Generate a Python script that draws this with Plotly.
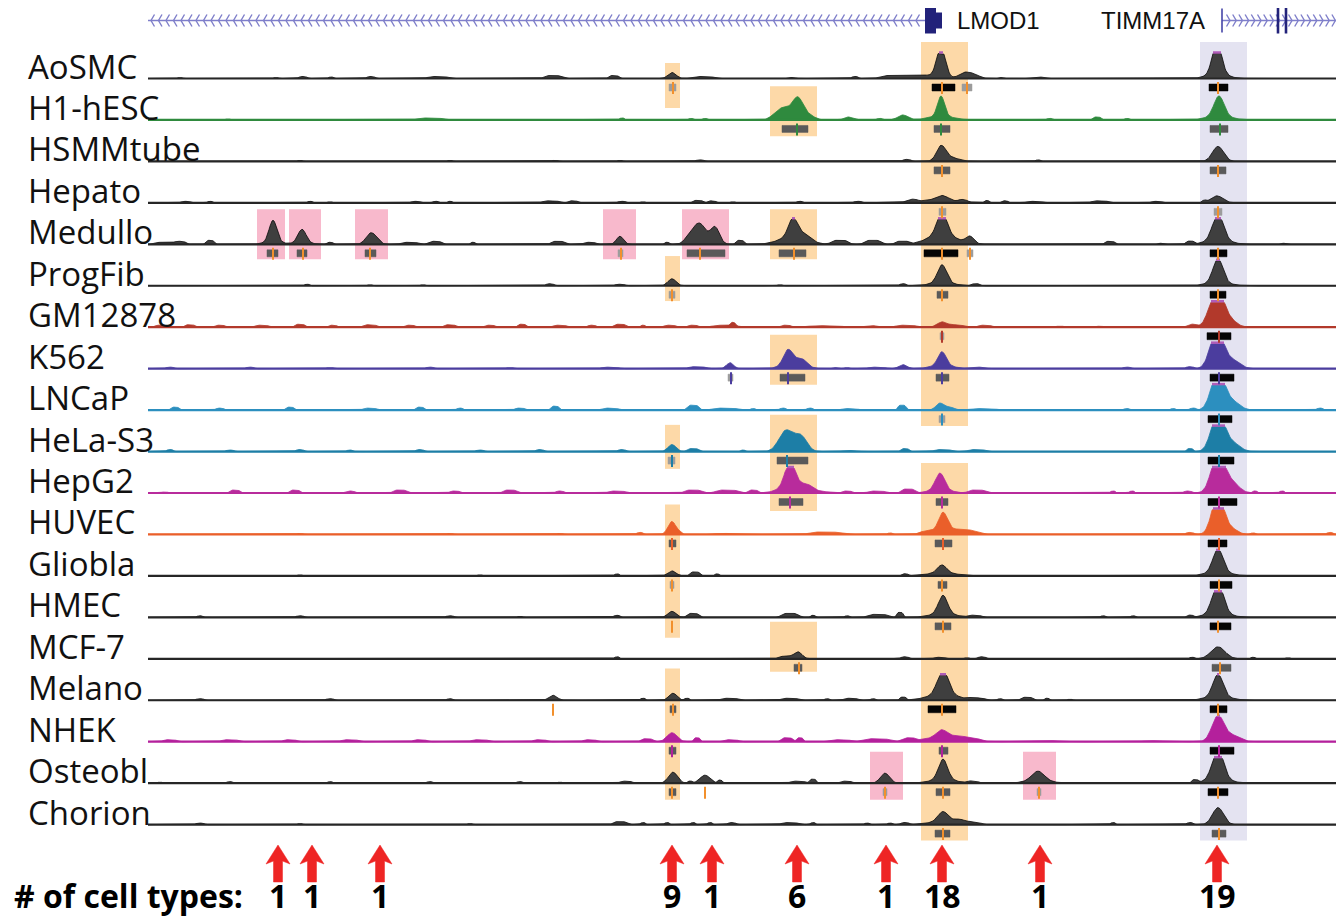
import numpy as np
import plotly.graph_objects as go

# ---------------- data ----------------
TRACKS = ["AoSMC", "H1-hESC", "HSMMtube", "Hepato", "Medullo", "ProgFib", "GM12878",
          "K562", "LNCaP", "HeLa-S3", "HepG2", "HUVEC", "Gliobla", "HMEC", "MCF-7",
          "Melano", "NHEK", "Osteobl", "Chorion"]

TRACK_COLORS = {"H1-hESC": "#2f8a3e", "GM12878": "#b2392b", "K562": "#4b3d9e",
                "LNCaP": "#2c8fbf", "HeLa-S3": "#1d7ea6", "HepG2": "#b82b9c",
                "HUVEC": "#ea5f2a", "NHEK": "#b4209c"}

# peaks: (position kb, height, sigma kb)
PEAKS = {
    "AoSMC": [(52.4, 6, 0.4), (79.3, 30, 0.45), (77.2, 4, 1.0), (81.7, 6, 0.6), (82.7, 3, 0.5),
              (106.9, 32, 0.45), (106.9, 5, 1.0)],
    "H1-hESC": [(65.0, 18, 0.5), (63.9, 10, 0.8), (63.0, 5, 0.6), (66.0, 5, 0.6), (79.3, 20, 0.35),
                (79.3, 4, 1.2), (75.5, 5, 0.5), (70.0, 3, 0.4), (107.1, 20, 0.5), (107.1, 4, 1.2)],
    "HSMMtube": [(79.3, 14, 0.45), (80.2, 4, 0.8), (107.0, 15, 0.55)],
    "Hepato": [(79.4, 5, 0.6), (78.7, 2.5, 2.5), (106.9, 7, 0.6)],
    "Medullo": [(12.5, 21, 0.38), (12.5, 3, 0.8), (15.4, 13, 0.4), (15.4, 2, 0.8), (22.2, 10, 0.45),
                (22.8, 4, 0.4), (47.2, 8, 0.35), (55.2, 20, 0.6), (56.7, 17, 0.45), (54.2, 8, 0.5),
                (64.5, 18, 0.45), (64.5, 8, 1.3), (65.7, 5, 0.6), (79.4, 22, 0.5), (79.4, 10, 1.4),
                (82.2, 7, 0.4), (107.0, 26, 0.55), (107.0, 4, 1.2)],
    "ProgFib": [(52.4, 7, 0.4), (79.4, 18, 0.45), (79.4, 3, 1.2), (107.0, 24, 0.5), (107.0, 3, 1.2)],
    "GM12878": [(79.4, 3, 0.4), (106.9, 40, 0.7), (108.4, 5, 0.6), (104.4, 3, 0.4)],
    "K562": [(58.2, 6, 0.35), (64.0, 14, 0.45), (64.5, 6, 1.0), (65.4, 6, 0.5), (79.4, 13, 0.4),
             (79.4, 4, 1.0), (75.5, 4, 0.4), (106.9, 40, 0.65), (108.5, 8, 0.7)],
    "LNCaP": [(79.2, 7, 0.4), (80.2, 3, 0.4), (107.0, 40, 0.65), (108.5, 8, 0.7)],
    "HeLa-S3": [(52.4, 7, 0.4), (63.8, 21, 0.7), (65.3, 15, 0.6), (107.0, 40, 0.65), (108.5, 8, 0.7)],
    "HepG2": [(64.2, 24, 0.5), (64.5, 8, 1.2), (66.0, 5, 0.6), (79.2, 16, 0.45), (79.2, 4, 1.0),
              (107.0, 40, 0.65), (108.4, 10, 0.7)],
    "HUVEC": [(52.4, 13, 0.4), (79.5, 18, 0.45), (79.5, 4, 1.2), (81.4, 4, 0.8), (107.0, 40, 0.6),
              (108.4, 5, 0.6)],
    "Gliobla": [(52.4, 5, 0.4), (79.4, 8, 0.45), (79.4, 3, 1.5), (107.0, 23, 0.5), (107.0, 4, 1.2)],
    "HMEC": [(52.4, 6, 0.4), (79.5, 18, 0.45), (79.5, 4, 1.2), (107.0, 30, 0.55), (107.0, 4, 1.2)],
    "MCF-7": [(65.0, 7, 0.4), (107.0, 12, 0.7)],
    "Melano": [(40.5, 5, 0.4), (52.5, 7, 0.4), (79.5, 24, 0.55), (79.5, 6, 1.5), (107.0, 22, 0.5),
               (107.0, 4, 1.2)],
    "NHEK": [(52.4, 9, 0.5), (79.4, 8, 0.55), (79.4, 4, 2.0), (107.0, 26, 0.6), (108.5, 6, 0.7)],
    "Osteobl": [(52.5, 11, 0.45), (55.7, 8, 0.5), (73.7, 10, 0.45), (79.5, 20, 0.45), (79.5, 4, 1.2),
                (89.0, 9, 0.6), (89.0, 3, 1.2), (107.0, 30, 0.55), (107.0, 4, 1.2)],
    "Chorion": [(79.5, 10, 0.5), (79.5, 3, 1.4), (81.2, 4, 0.6), (107.0, 17, 0.55)],
}

# low background bumps: (position kb, height, half-width kb)
BUMPS = {
    "AoSMC": [(3.2, 1, 0.3), (12.8, 1, 0.3), (15.5, 2, 0.5), (18.3, 1.5, 0.3), (22.3, 2, 0.5),
              (29.0, 2, 1.2), (40.5, 3, 1.0), (46.6, 3, 0.6), (55.5, 2, 1.3), (64.4, 1, 0.5),
              (70.7, 2, 0.4), (74.5, 3, 1.5), (85.4, 1, 0.3), (88.9, 1.5, 0.8)],
    "H1-hESC": [(8.0, 1, 0.3), (28.2, 2, 1.5), (47.4, 2, 0.3), (54.3, 1.5, 0.3), (55.7, 1.5, 0.3),
                (73.2, 1.5, 0.4), (90.2, 1.5, 0.4), (94.9, 3, 0.5), (97.9, 1.5, 0.3)],
    "HSMMtube": [(15.2, 1, 0.3), (30.2, 1, 0.3), (40.7, 1, 0.4), (47.2, 1, 0.3), (55.2, 1.5, 0.5),
                 (75.9, 2, 0.5), (89.0, 1.5, 0.3)],
    "Hepato": [(3.8, 1.5, 0.6), (6.2, 1.5, 0.3), (16.2, 1.5, 0.3), (18.2, 1, 0.3), (26.8, 1.5, 0.6),
               (28.8, 1.5, 0.4), (30.2, 1.5, 0.3), (40.3, 2, 1.0), (42.5, 2, 0.6), (47.4, 1.5, 0.5),
               (49.5, 1, 0.3), (55.0, 2.5, 0.6), (56.4, 2, 0.5), (58.5, 1, 0.3), (65.2, 1.5, 0.4),
               (71.0, 1.5, 0.5), (76.4, 2, 0.6), (81.5, 2, 0.5), (83.9, 2, 0.3), (85.7, 2, 0.4),
               (88.7, 1.5, 1.0), (95.2, 2, 1.0), (100.9, 1.5, 0.7), (105.6, 2, 0.3)],
    "Medullo": [(1.5, 2, 1.0), (3.2, 3, 0.7), (6.2, 4, 0.5), (18.2, 2, 0.4), (26.2, 2, 1.0),
                (28.7, 3, 0.8), (32.5, 2, 0.3), (41.0, 3, 0.8), (44.2, 2, 0.7), (51.9, 2, 0.3),
                (59.2, 4, 0.5), (69.2, 4, 1.0), (72.5, 4, 1.0), (75.4, 3, 0.8), (96.2, 3, 0.6),
                (101.2, 1, 0.3), (104.2, 3, 0.5), (113.5, 1, 0.3)],
    "ProgFib": [(15.9, 1.5, 0.3), (22.2, 1, 0.3), (27.5, 1, 0.3), (40.2, 2, 0.5), (47.2, 1.5, 0.6),
                (63.2, 1, 0.3), (75.5, 2, 0.4), (82.8, 2, 0.5)],
    "GM12878": [(1.2, 2, 0.6), (4.2, 2.5, 0.6), (7.2, 2, 0.6), (11.4, 2, 0.8), (15.2, 3, 0.6),
                (18.5, 2, 0.5), (22.2, 2.5, 0.8), (26.2, 2, 0.6), (30.2, 2.5, 0.7), (34.2, 2, 0.6),
                (37.4, 3, 0.5), (41.2, 2, 0.8), (44.4, 2, 0.5), (47.2, 3, 0.7), (49.5, 2, 0.3),
                (52.2, 2, 0.7), (54.5, 2, 0.6), (57.7, 2, 1.5), (58.5, 3, 0.3), (63.8, 2, 0.6),
                (67.7, 1.5, 2.0), (72.2, 1.5, 1.0), (75.8, 2, 1.2), (80.2, 2.5, 1.6), (83.7, 2, 0.8),
                (91.2, 1, 0.5), (95.2, 1, 0.4)],
    "K562": [(2.2, 1.5, 0.5), (10.2, 1.5, 0.5), (18.2, 1, 0.5), (28.2, 1.5, 0.5), (36.2, 1, 0.5),
             (46.2, 1.5, 1.0), (54.9, 2, 1.0), (68.8, 1, 0.4), (69.9, 1, 0.3), (72.9, 1.5, 1.0),
             (82.9, 1.5, 1.0), (97.9, 1.5, 0.5), (104.2, 2, 0.5)],
    "LNCaP": [(2.7, 3, 0.5), (7.2, 2, 0.5), (14.2, 3, 0.5), (22.2, 2, 0.8), (27.2, 3, 0.5),
              (31.2, 2, 0.4), (37.2, 2, 0.6), (40.7, 4, 0.5), (46.2, 2, 1.0), (54.5, 5, 0.7),
              (57.7, 2, 1.5), (60.5, 1.5, 0.3), (63.5, 2, 0.4), (66.2, 2, 0.4), (70.2, 1.5, 1.0),
              (75.4, 5, 0.5), (83.5, 1.5, 1.6), (97.9, 1.5, 0.4), (102.5, 1.5, 0.3), (104.5, 2, 0.4),
              (117.2, 2, 0.4)],
    "HeLa-S3": [(2.2, 2, 0.4), (8.2, 1.5, 0.5), (15.2, 2, 0.5), (20.2, 1.5, 0.4), (27.2, 2, 0.5),
                (33.2, 1.5, 0.5), (39.2, 2, 0.5), (47.4, 2, 0.5), (54.5, 3, 0.7), (59.5, 1.5, 0.3),
                (70.2, 1, 1.0), (75.7, 3, 0.5), (79.5, 2, 1.0), (82.9, 2, 1.0), (104.2, 3, 0.4)],
    "HepG2": [(1.7, 1, 0.4), (8.7, 3, 0.6), (14.7, 3, 0.6), (20.2, 2, 0.6), (25.2, 3, 0.8),
              (30.7, 2, 0.6), (36.2, 3, 0.8), (41.2, 2, 0.5), (46.9, 2, 1.0), (54.5, 3, 1.0),
              (57.9, 3, 1.3), (60.5, 3, 0.6), (67.7, 1, 0.8), (69.9, 2, 0.6), (72.9, 2, 1.0),
              (76.0, 4, 0.8), (82.9, 3, 1.0), (96.5, 2, 0.3), (98.4, 2, 0.3), (104.0, 2, 0.5),
              (110.7, 2, 0.3), (113.4, 2, 0.3)],
    "HUVEC": [(15.2, 1, 0.4), (30.2, 1, 0.4), (41.2, 1, 0.4), (49.2, 2, 0.4), (53.2, 1.5, 0.3),
              (57.5, 1, 1.0), (67.7, 2.5, 1.8), (74.2, 1.5, 0.3), (77.7, 2, 0.8), (82.7, 2, 0.8),
              (104.2, 2, 0.5), (110.5, 1.5, 0.3), (118.2, 2, 0.4)],
    "Gliobla": [(15.2, 1, 0.3), (33.2, 1, 0.3), (46.9, 2, 0.3), (54.7, 4, 0.6), (56.9, 2, 0.3),
                (75.7, 2, 0.4)],
    "HMEC": [(5.2, 1.5, 0.4), (15.2, 1.5, 0.5), (30.2, 1.5, 0.5), (37.2, 1, 0.3), (46.9, 2, 0.4),
             (54.5, 4, 0.7), (64.2, 4, 1.0), (66.5, 2, 0.3), (69.9, 1.5, 0.3), (73.0, 3, 1.2),
             (75.2, 5, 0.4), (82.7, 2, 0.8), (95.5, 1.5, 0.3), (98.5, 1.5, 0.3), (104.2, 2, 0.4)],
    "MCF-7": [(46.9, 2, 0.3), (63.7, 2.5, 0.8), (75.7, 2, 0.5), (79.2, 1.5, 0.7), (81.9, 1, 0.3),
              (83.4, 2, 0.5), (104.4, 1.5, 0.3), (110.5, 1.5, 0.3), (114.0, 1, 0.3)],
    "Melano": [(5.2, 1.5, 0.5), (18.2, 1.5, 0.5), (30.2, 1.5, 0.4), (49.5, 2, 0.3), (53.9, 2, 0.3),
               (58.2, 2, 1.0), (64.2, 2, 1.0), (67.9, 1.5, 0.3), (70.3, 2, 0.8), (72.5, 1.5, 0.3),
               (75.5, 3, 0.4), (82.9, 2, 1.0), (85.2, 1.5, 0.3), (87.9, 3, 0.7), (89.9, 2, 0.3),
               (92.2, 1, 0.3)],
    "NHEK": [(2.2, 2, 0.8), (8.2, 2, 1.0), (14.2, 2, 0.8), (20.2, 2, 1.0), (27.2, 2, 0.8),
             (33.2, 2, 1.0), (39.2, 2, 0.8), (44.2, 2, 0.8), (49.9, 3, 0.7), (54.9, 4, 0.4),
             (58.3, 2, 0.9), (63.9, 4, 0.7), (65.2, 4, 0.4), (69.2, 2, 1.3), (72.8, 3, 1.6),
             (76.0, 3, 0.8), (81.8, 3, 1.6), (89.9, 1, 2.0), (100.2, 1, 1.0)],
    "Osteobl": [(1.2, 1, 0.3), (8.2, 1.5, 0.4), (18.2, 1.5, 0.3), (28.2, 1.5, 0.4), (37.2, 1.5, 0.4),
                (41.2, 1, 0.3), (47.8, 2, 0.7), (54.2, 2, 0.3), (57.2, 3, 0.3), (65.0, 2, 0.9),
                (66.5, 4, 0.4), (69.8, 2, 0.7), (82.5, 2, 0.7), (104.7, 3, 0.4)],
    "Chorion": [(5.2, 1.5, 0.5), (15.2, 1, 0.3), (32.2, 1, 0.3), (47.2, 3, 0.8), (49.5, 2, 0.3),
                (51.9, 2, 0.3), (54.5, 2, 0.3), (56.2, 2, 0.3), (58.4, 2, 0.5), (64.2, 2, 1.0),
                (66.5, 2, 0.3), (71.9, 1.5, 0.3), (74.2, 1.5, 0.3), (75.7, 2, 0.5), (82.7, 2, 0.8),
                (96.5, 2, 0.3), (104.2, 2, 0.4)],
}

# peak calls: (start kb, end kb, strength, summit kb); strength "tick" -> summit tick only
CALLS = {
    "AoSMC": [(52.1, 52.8, "weak", 52.5), (78.4, 80.7, "strong", 79.4), (81.4, 82.4, "weak", 81.9),
              (106.1, 108.0, "strong", 107.0)],
    "H1-hESC": [(63.4, 66.0, "mid", 64.9), (78.6, 80.2, "mid", 79.3), (106.2, 108.0, "mid", 107.2)],
    "HSMMtube": [(78.6, 80.2, "mid", 79.4), (106.2, 107.8, "mid", 107.0)],
    "Hepato": [(79.1, 79.8, "weak", 79.4), (106.6, 107.4, "weak", 107.0)],
    "Medullo": [(11.9, 13.0, "mid", 12.5), (14.9, 15.9, "mid", 15.5), (21.7, 22.8, "mid", 22.2),
                (47.0, 47.5, "weak", 47.3), (53.9, 57.7, "mid", 55.2), (63.1, 65.8, "mid", 64.6),
                (77.6, 81.0, "strong", 79.4), (81.9, 82.5, "weak", 82.2), (106.2, 107.9, "strong", 107.0)],
    "ProgFib": [(52.1, 52.7, "weak", 52.4), (78.9, 80.0, "mid", 79.4), (106.2, 107.8, "strong", 107.0)],
    "GM12878": [(79.2, 79.6, "weak", 79.4), (105.9, 108.3, "strong", 107.1)],
    "K562": [(58.0, 58.5, "weak", 58.3), (63.2, 65.7, "mid", 64.0), (78.8, 80.1, "mid", 79.4),
             (106.2, 108.6, "strong", 107.1)],
    "LNCaP": [(79.1, 79.7, "weak", 79.4), (106.0, 108.4, "strong", 107.1)],
    "HeLa-S3": [(52.0, 52.7, "weak", 52.4), (62.9, 66.0, "mid", 63.9), (106.0, 108.6, "strong", 107.1)],
    "HepG2": [(63.1, 65.5, "mid", 64.2), (78.8, 80.0, "mid", 79.4), (106.0, 108.9, "strong", 107.1)],
    "HUVEC": [(52.1, 52.8, "mid", 52.4), (78.7, 80.4, "mid", 79.5), (106.0, 107.9, "strong", 107.1)],
    "Gliobla": [(52.2, 52.6, "weak", 52.4), (79.0, 79.9, "mid", 79.4), (106.2, 108.4, "strong", 107.1)],
    "HMEC": [(52.4, 52.4, "tick", 52.4), (78.7, 80.3, "mid", 79.5), (106.2, 108.3, "strong", 107.0)],
    "MCF-7": [(64.6, 65.4, "mid", 65.1), (106.4, 108.3, "mid", 107.2)],
    "Melano": [(40.5, 40.5, "tick", 40.5), (52.2, 52.8, "mid", 52.5), (78.0, 80.8, "strong", 79.4),
               (106.2, 107.9, "strong", 107.0)],
    "NHEK": [(52.1, 52.8, "mid", 52.4), (79.1, 80.0, "mid", 79.4), (106.2, 108.6, "strong", 107.1)],
    "Osteobl": [(52.1, 52.8, "mid", 52.4), (55.7, 55.7, "tick", 55.7), (73.5, 73.9, "weak", 73.7),
                (78.8, 80.2, "mid", 79.5), (88.9, 89.3, "weak", 89.1), (106.0, 108.0, "strong", 107.0)],
    "Chorion": [(78.7, 80.2, "mid", 79.5), (106.4, 107.8, "mid", 107.1)],
}

# highlighted regions: (start kb, end kb, first track, last track, pad above px, pad below px, kind)
HIGHLIGHTS = [
    (51.7, 53.2, "AoSMC", "AoSMC", 15.5, 29.5, "shared"),
    (51.7, 53.2, "ProgFib", "ProgFib", 29.7, 15.3, "shared"),
    (51.7, 53.2, "HeLa-S3", "HeLa-S3", 26.7, 17.3, "shared"),
    (51.7, 53.2, "HUVEC", "HMEC", 30.0, 20.3, "shared"),
    (51.7, 53.2, "Melano", "Osteobl", 31.7, 16.7, "shared"),
    (62.2, 66.9, "H1-hESC", "H1-hESC", 33.7, 16.3, "shared"),
    (62.2, 66.9, "Medullo", "Medullo", 35.0, 15.0, "shared"),
    (62.2, 66.9, "K562", "K562", 34.0, 16.0, "shared"),
    (62.2, 66.9, "HeLa-S3", "HepG2", 36.7, 18.0, "shared"),
    (62.2, 66.9, "MCF-7", "MCF-7", 37.0, 13.0, "shared"),
    (77.3, 82.0, "AoSMC", "LNCaP", 36.5, 16.0, "shared"),
    (77.3, 82.0, "HepG2", "Chorion", 30.0, 16.0, "shared"),
    (10.9, 13.7, "Medullo", "Medullo", 35.0, 15.0, "unique"),
    (14.1, 17.3, "Medullo", "Medullo", 35.0, 15.0, "unique"),
    (20.7, 24.0, "Medullo", "Medullo", 35.0, 15.0, "unique"),
    (45.5, 48.8, "Medullo", "Medullo", 35.0, 15.0, "unique"),
    (53.4, 58.1, "Medullo", "Medullo", 35.0, 15.0, "unique"),
    (72.2, 75.5, "Osteobl", "Osteobl", 31.3, 16.7, "unique"),
    (87.5, 90.8, "Osteobl", "Osteobl", 31.3, 16.7, "unique"),
    (105.2, 109.9, "AoSMC", "Chorion", 36.5, 16.0, "all"),
]

# gene models (kb)
LMOD1 = {"intron": (0.0, 77.7), "exon_thick": (77.7, 78.8), "exon_thin": (78.8, 79.4), "label": 80.7}
TIMM17A = {"tss": 107.4, "intron": (107.4, 119.6), "exons": [113.0, 113.8], "label": 105.9}

# number of cell types sharing each site
SITE_POS = [13.0, 16.4, 23.2, 52.4, 56.4, 64.9, 73.8, 79.4, 89.2, 106.9]
SITE_COUNTS = [1, 1, 1, 9, 1, 6, 1, 18, 1, 19]

# ---------------- scales / style ----------------
PX_T = 41.45            # pixels per track
Y0_PX = 78.5            # pixel row of first baseline
KB_PX = 10.0            # pixels per kb
X0_PX = 148.0           # pixel column of region start
W, H = 1344, 916        # page size
PAGE_PAD = 8            # default body margin of the html page
CAP = 25.0              # display clip of signal
REGION = (0.0, 119.6)

def ty(px):            # pixel row -> track units
    return (px - Y0_PX) / PX_T

def kx(px):            # pixel column -> kb
    return (px - X0_PX) / KB_PX

BLACK_FILL, BLACK_LINE = "#3f3f3f", "#0a0a0a"
HL = {"shared": "#fdd9a8", "unique": "#f8b9cc", "all": "#e4e3f1"}
BOX = {"strong": "#050505", "mid": "#5a5a5a", "weak": "#9c9c9c"}
TICK_ORANGE = "#f2902c"
CAP_COLOR = "#b05cb8"
GENE_LINE, GENE_DARK = "#7f7fca", "#22227a"
ARROW_RED = "#ee2524"

fig = go.Figure()
shapes, annotations = [], []

# highlight boxes
tidx = {n: i for i, n in enumerate(TRACKS)}
for x0, x1, tf, tl, pu, pd, kind in HIGHLIGHTS:
    shapes.append(dict(type="rect", xref="x", yref="y", x0=x0, x1=x1,
                       y0=tidx[tf] - pu / PX_T, y1=tidx[tl] + pd / PX_T,
                       fillcolor=HL[kind], line=dict(width=0), layer="below"))

xs = np.round(np.arange(REGION[0], REGION[1] + 1e-9, 0.1), 2)

for i, name in enumerate(TRACKS):
    col = TRACK_COLORS.get(name)
    fillc = col if col else BLACK_FILL
    linec = col if col else BLACK_LINE
    sig = np.zeros_like(xs)
    for c, h, s in PEAKS[name]:
        sig += h * np.exp(-0.5 * ((xs - c) / s) ** 2)
    for c, h, w in BUMPS[name]:
        sig += h * np.exp(-((xs - c) / w) ** 4)
    clipped = np.minimum(sig, CAP)
    yv = i - clipped / PX_T
    px_ = np.concatenate([[xs[0]], xs, [xs[-1]]])
    py_ = np.concatenate([[i], yv, [i]])
    fig.add_trace(go.Scatter(x=px_, y=py_, mode="lines", fill="toself", fillcolor=fillc,
                             line=dict(color=linec, width=0.8), hoverinfo="skip", showlegend=False))
    # baseline
    fig.add_trace(go.Scatter(x=[REGION[0], REGION[1]], y=[i, i], mode="lines",
                             line=dict(color=col if col else "#262626", width=2.2),
                             hoverinfo="skip", showlegend=False))
    # clipped caps
    mask = sig >= CAP
    if mask.any():
        cx = np.where(mask, xs, np.nan)
        cy = np.where(mask, i - CAP / PX_T - 1.0 / PX_T, np.nan)
        fig.add_trace(go.Scatter(x=cx, y=cy, mode="lines", connectgaps=False,
                                 line=dict(color=CAP_COLOR, width=2.5), hoverinfo="skip",
                                 showlegend=False))
    # peak calls
    tick_col = col if col else TICK_ORANGE
    for s0, s1, kind, summit in CALLS[name]:
        if kind != "tick":
            shapes.append(dict(type="rect", xref="x", yref="y", x0=s0, x1=s1,
                               y0=i + 5.5 / PX_T, y1=i + 12.5 / PX_T,
                               fillcolor=BOX[kind], line=dict(color=BOX[kind], width=0.5)))
        shapes.append(dict(type="line", xref="x", yref="y", x0=summit, x1=summit,
                           y0=i + 3.5 / PX_T, y1=i + 15.5 / PX_T,
                           line=dict(color=tick_col, width=2)))
    # track label
    annotations.append(dict(x=kx(26), y=i - 12.5 / PX_T, xref="x", yref="y", text=name,
                            showarrow=False, xanchor="left", yanchor="middle",
                            font=dict(family="Open Sans", size=33, color="#111111")))

# ---------------- gene track ----------------
gy = ty(20.5)
cw, chh = 0.35, 6.0 / PX_T
# LMOD1 (minus strand)
a, b = LMOD1["intron"]
fig.add_trace(go.Scatter(x=[a, b], y=[gy, gy], mode="lines", line=dict(color=GENE_LINE, width=1.4),
                         hoverinfo="skip", showlegend=False))
chx, chy = [], []
for c in np.arange(a + 0.3, b - 0.3, 0.75):
    chx += [c + cw, c, c + cw, None]
    chy += [gy - chh, gy, gy + chh, None]
fig.add_trace(go.Scatter(x=chx, y=chy, mode="lines", line=dict(color=GENE_LINE, width=1.4),
                         hoverinfo="skip", showlegend=False))
e0, e1 = LMOD1["exon_thick"]
shapes.append(dict(type="rect", xref="x", yref="y", x0=e0, x1=e1, y0=gy - 13 / PX_T, y1=gy + 13 / PX_T,
                   fillcolor=GENE_DARK, line=dict(width=0)))
e0, e1 = LMOD1["exon_thin"]
shapes.append(dict(type="rect", xref="x", yref="y", x0=e0, x1=e1, y0=gy - 8 / PX_T, y1=gy + 8 / PX_T,
                   fillcolor=GENE_DARK, line=dict(width=0)))
annotations.append(dict(x=LMOD1["label"], y=gy, xref="x", yref="y", text="LMOD1", showarrow=False,
                        xanchor="left", yanchor="middle",
                        font=dict(family="Liberation Sans", size=24, color="#111111")))
# TIMM17A (plus strand)
a, b = TIMM17A["intron"]
fig.add_trace(go.Scatter(x=[a, b], y=[gy, gy], mode="lines", line=dict(color=GENE_LINE, width=1.4),
                         hoverinfo="skip", showlegend=False))
chx, chy = [], []
for c in np.arange(a + 0.8, b, 0.62):
    chx += [c - cw, c, c - cw, None]
    chy += [gy - chh, gy, gy + chh, None]
fig.add_trace(go.Scatter(x=chx, y=chy, mode="lines", line=dict(color=GENE_LINE, width=1.4),
                         hoverinfo="skip", showlegend=False))
shapes.append(dict(type="line", xref="x", yref="y", x0=TIMM17A["tss"], x1=TIMM17A["tss"],
                   y0=gy - 12 / PX_T, y1=gy + 12 / PX_T, line=dict(color="#4545a8", width=1.6)))
for ex in TIMM17A["exons"]:
    shapes.append(dict(type="line", xref="x", yref="y", x0=ex, x1=ex,
                       y0=gy - 13 / PX_T, y1=gy + 13 / PX_T, line=dict(color=GENE_DARK, width=2.6)))
annotations.append(dict(x=TIMM17A["label"], y=gy, xref="x", yref="y", text="TIMM17A", showarrow=False,
                        xanchor="right", yanchor="middle",
                        font=dict(family="Liberation Sans", size=24, color="#111111")))

# ---------------- arrows and counts ----------------
ARROW_SHAPE = [(0, 845), (12, 864), (4.5, 861), (4.5, 882), (-4.5, 882), (-4.5, 861), (-12, 864), (0, 845)]
for pos, cnt in zip(SITE_POS, SITE_COUNTS):
    ax_ = [pos + dx / KB_PX for dx, _ in ARROW_SHAPE]
    ay_ = [ty(r) for _, r in ARROW_SHAPE]
    fig.add_trace(go.Scatter(x=ax_, y=ay_, mode="lines", fill="toself", fillcolor=ARROW_RED,
                             line=dict(color=ARROW_RED, width=0.5), hoverinfo="skip", showlegend=False))
    annotations.append(dict(x=pos, y=ty(895), xref="x", yref="y", text=str(cnt), showarrow=False,
                            xanchor="center", yanchor="middle",
                            font=dict(family="Open Sans", size=32, color="#000000", weight="bold")))
annotations.append(dict(x=kx(12), y=ty(895), xref="x", yref="y", text="# of cell types:",
                        showarrow=False, xanchor="left", yanchor="middle",
                        font=dict(family="Open Sans", size=32, color="#000000", weight="bold")))

# the html body adds an 8 px margin, so the figure covers page pixels 8..W and 8..H
fig.update_layout(
    width=W - PAGE_PAD, height=H - PAGE_PAD, margin=dict(l=0, r=0, t=0, b=0),
    paper_bgcolor="white", plot_bgcolor="white",
    xaxis=dict(range=[kx(PAGE_PAD), kx(W)], visible=False, fixedrange=True),
    yaxis=dict(range=[ty(H), ty(PAGE_PAD)], visible=False, fixedrange=True),
    shapes=shapes, annotations=annotations, showlegend=False,
)
fig.write_html("out.html")
